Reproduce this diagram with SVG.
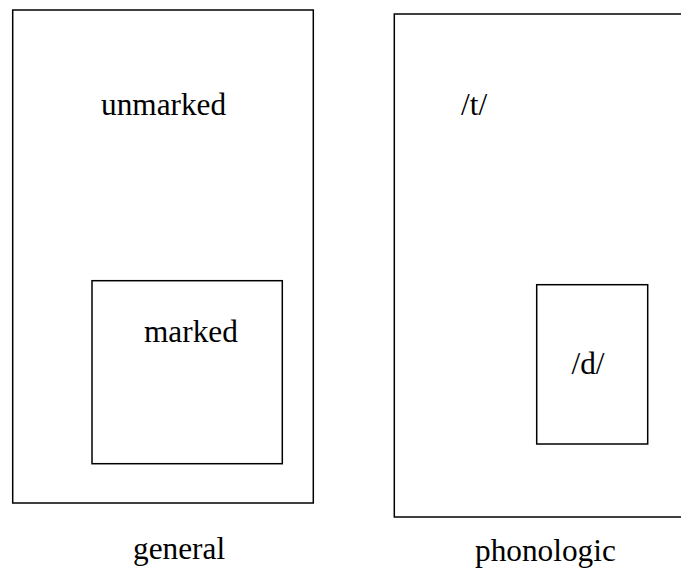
<svg xmlns="http://www.w3.org/2000/svg" width="681" height="570" viewBox="0 0 681 570">
<style>
.box{fill:none;stroke:#000;stroke-width:1.5}
text{font-family:"Liberation Serif","Times New Roman",serif;font-size:31.3px;fill:#000}
</style>
<rect width="681" height="570" fill="#fff"/>
<g id="general">
<rect class="box" x="12.7" y="10" width="300.6" height="493"/>
<text x="101" y="115">unmarked</text>
</g>
<g id="marked">
<rect class="box" x="92" y="280.7" width="190.3" height="183"/>
<text x="144" y="342">marked</text>
</g>
<g id="phonologic">
<rect class="box" x="394.3" y="14" width="300" height="503"/>
<text x="461" y="115">/t/</text>
</g>
<g id="d">
<rect class="box" x="536.7" y="284.7" width="111" height="159.3"/>
<text x="571.5" y="374">/d/</text>
</g>
<g id="labels">
<text x="133" y="559">general</text>
<text x="475" y="561">phonologic</text>
</g>
<g id="connectors"/>
</svg>
